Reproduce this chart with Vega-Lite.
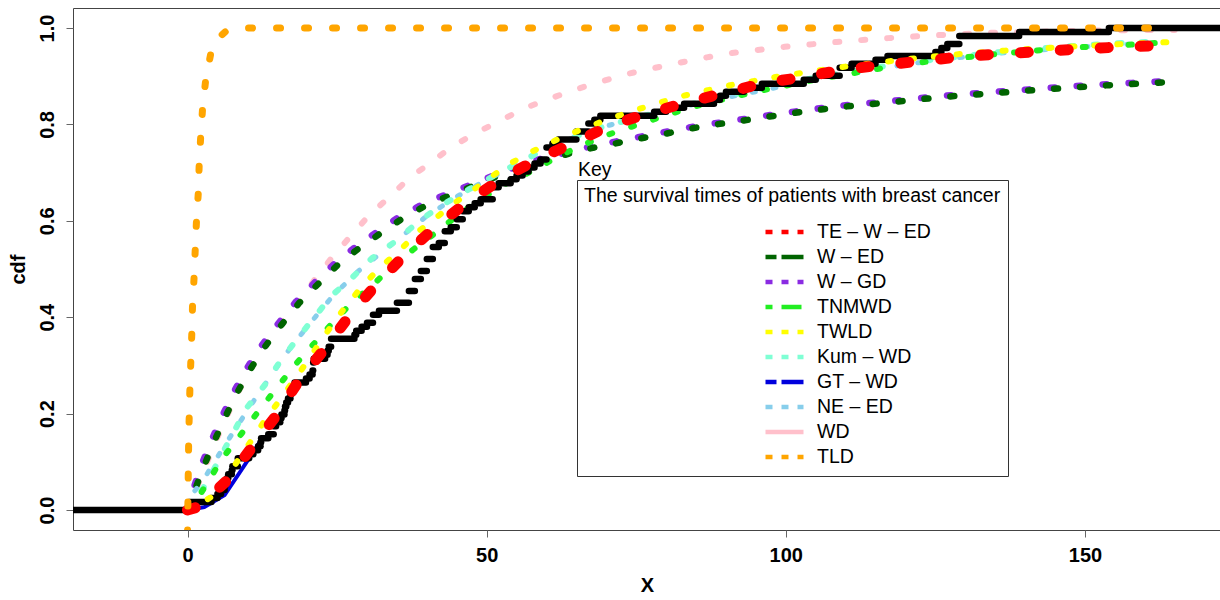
{
  "$schema": "https://vega.github.io/schema/vega-lite/v6.json",
  "autosize": {"type": "none"},
  "padding": {"left": 73, "top": 8, "right": 0, "bottom": 70},
  "width": 1148,
  "height": 522,
  "background": "white",
  "config": {
    "font": "Liberation Sans",
    "view": {"stroke": "#444", "strokeWidth": 1},
    "axis": {"grid": false, "domain": false, "tickColor": "#666", "tickSize": 7, "labelColor": "black", "labelFontSize": 20, "labelFontWeight": "bold", "titleFontSize": 20, "titleFontWeight": "bold", "titleColor": "black"}
  },
  "datasets": {
    "curves": [
      {"series": "WD", "x": 0, "y": 0}, {"series": "WD", "x": 2.5, "y": 0.075}, {"series": "WD", "x": 4.2, "y": 0.128}, {"series": "WD", "x": 6.2, "y": 0.185}, {"series": "WD", "x": 8.2, "y": 0.238}, {"series": "WD", "x": 10.4, "y": 0.29}, {"series": "WD", "x": 12.9, "y": 0.34}, {"series": "WD", "x": 15.7, "y": 0.39}, {"series": "WD", "x": 18.7, "y": 0.435}, {"series": "WD", "x": 21.2, "y": 0.477}, {"series": "WD", "x": 24.1, "y": 0.523}, {"series": "WD", "x": 27.1, "y": 0.566}, {"series": "WD", "x": 30.4, "y": 0.612}, {"series": "WD", "x": 33.8, "y": 0.65}, {"series": "WD", "x": 37.1, "y": 0.689}, {"series": "WD", "x": 40.8, "y": 0.722}, {"series": "WD", "x": 44.3, "y": 0.755}, {"series": "WD", "x": 48.5, "y": 0.784}, {"series": "WD", "x": 52.5, "y": 0.809}, {"series": "WD", "x": 56.4, "y": 0.834}, {"series": "WD", "x": 60.9, "y": 0.855}, {"series": "WD", "x": 65, "y": 0.873}, {"series": "WD", "x": 69.4, "y": 0.89}, {"series": "WD", "x": 73.6, "y": 0.905}, {"series": "WD", "x": 78, "y": 0.917}, {"series": "WD", "x": 82.3, "y": 0.928}, {"series": "WD", "x": 86.8, "y": 0.939}, {"series": "WD", "x": 91, "y": 0.948}, {"series": "WD", "x": 99.8, "y": 0.961}, {"series": "WD", "x": 108.5, "y": 0.971}, {"series": "WD", "x": 117, "y": 0.979}, {"series": "WD", "x": 125, "y": 0.985}, {"series": "WD", "x": 134, "y": 0.99}, {"series": "WD", "x": 145, "y": 0.993}, {"series": "WD", "x": 152, "y": 0.995}, {"series": "WD", "x": 165, "y": 0.996},

      {"series": "W – GD", "x": 0, "y": 0}, {"series": "W – GD", "x": 0.5, "y": 0.025}, {"series": "W – GD", "x": 2.0, "y": 0.083}, {"series": "W – GD", "x": 3.7, "y": 0.136}, {"series": "W – GD", "x": 5.6, "y": 0.19}, {"series": "W – GD", "x": 7.6, "y": 0.242}, {"series": "W – GD", "x": 9.8, "y": 0.292}, {"series": "W – GD", "x": 12.3, "y": 0.34}, {"series": "W – GD", "x": 15.1, "y": 0.386}, {"series": "W – GD", "x": 18.1, "y": 0.432}, {"series": "W – GD", "x": 21.4, "y": 0.474}, {"series": "W – GD", "x": 24.8, "y": 0.514}, {"series": "W – GD", "x": 28.4, "y": 0.549}, {"series": "W – GD", "x": 32, "y": 0.58}, {"series": "W – GD", "x": 35.7, "y": 0.611}, {"series": "W – GD", "x": 40, "y": 0.639}, {"series": "W – GD", "x": 44.5, "y": 0.661}, {"series": "W – GD", "x": 48.3, "y": 0.68}, {"series": "W – GD", "x": 57, "y": 0.722}, {"series": "W – GD", "x": 61.2, "y": 0.735}, {"series": "W – GD", "x": 65.5, "y": 0.749}, {"series": "W – GD", "x": 69.7, "y": 0.76}, {"series": "W – GD", "x": 74.2, "y": 0.771}, {"series": "W – GD", "x": 78.5, "y": 0.781}, {"series": "W – GD", "x": 83, "y": 0.792}, {"series": "W – GD", "x": 87.3, "y": 0.801}, {"series": "W – GD", "x": 91.3, "y": 0.808}, {"series": "W – GD", "x": 99.8, "y": 0.824}, {"series": "W – GD", "x": 108.5, "y": 0.838}, {"series": "W – GD", "x": 117.2, "y": 0.848}, {"series": "W – GD", "x": 125.8, "y": 0.859}, {"series": "W – GD", "x": 134.5, "y": 0.867}, {"series": "W – GD", "x": 143.1, "y": 0.875}, {"series": "W – GD", "x": 151.5, "y": 0.882}, {"series": "W – GD", "x": 165.5, "y": 0.891},

      {"series": "W – ED", "x": 0, "y": 0}, {"series": "W – ED", "x": 0.8, "y": 0.027}, {"series": "W – ED", "x": 2.5, "y": 0.083}, {"series": "W – ED", "x": 4.2, "y": 0.135}, {"series": "W – ED", "x": 6.2, "y": 0.19}, {"series": "W – ED", "x": 8.2, "y": 0.241}, {"series": "W – ED", "x": 10.4, "y": 0.29}, {"series": "W – ED", "x": 12.9, "y": 0.338}, {"series": "W – ED", "x": 15.7, "y": 0.384}, {"series": "W – ED", "x": 18.7, "y": 0.43}, {"series": "W – ED", "x": 22, "y": 0.471}, {"series": "W – ED", "x": 25.4, "y": 0.512}, {"series": "W – ED", "x": 29, "y": 0.546}, {"series": "W – ED", "x": 32.6, "y": 0.577}, {"series": "W – ED", "x": 36.3, "y": 0.608}, {"series": "W – ED", "x": 40.5, "y": 0.636}, {"series": "W – ED", "x": 45, "y": 0.658}, {"series": "W – ED", "x": 48.8, "y": 0.678}, {"series": "W – ED", "x": 57.5, "y": 0.72}, {"series": "W – ED", "x": 61.7, "y": 0.732}, {"series": "W – ED", "x": 66, "y": 0.747}, {"series": "W – ED", "x": 70.2, "y": 0.757}, {"series": "W – ED", "x": 74.7, "y": 0.769}, {"series": "W – ED", "x": 79, "y": 0.778}, {"series": "W – ED", "x": 83.4, "y": 0.79}, {"series": "W – ED", "x": 87.8, "y": 0.799}, {"series": "W – ED", "x": 91.8, "y": 0.806}, {"series": "W – ED", "x": 100.3, "y": 0.822}, {"series": "W – ED", "x": 109, "y": 0.836}, {"series": "W – ED", "x": 117.7, "y": 0.846}, {"series": "W – ED", "x": 126.3, "y": 0.857}, {"series": "W – ED", "x": 135, "y": 0.865}, {"series": "W – ED", "x": 143.6, "y": 0.873}, {"series": "W – ED", "x": 152, "y": 0.88}, {"series": "W – ED", "x": 166, "y": 0.889},

      {"series": "NE – ED", "x": 0, "y": 0}, {"series": "NE – ED", "x": 0.6, "y": 0.03}, {"series": "NE – ED", "x": 2.5, "y": 0.06}, {"series": "NE – ED", "x": 4.2, "y": 0.093}, {"series": "NE – ED", "x": 6, "y": 0.13}, {"series": "NE – ED", "x": 8.4, "y": 0.176}, {"series": "NE – ED", "x": 11, "y": 0.225}, {"series": "NE – ED", "x": 14, "y": 0.28}, {"series": "NE – ED", "x": 17, "y": 0.333}, {"series": "NE – ED", "x": 20, "y": 0.38}, {"series": "NE – ED", "x": 24, "y": 0.44}, {"series": "NE – ED", "x": 28, "y": 0.49}, {"series": "NE – ED", "x": 32, "y": 0.53}, {"series": "NE – ED", "x": 36, "y": 0.57}, {"series": "NE – ED", "x": 40, "y": 0.61}, {"series": "NE – ED", "x": 45, "y": 0.65}, {"series": "NE – ED", "x": 50, "y": 0.685}, {"series": "NE – ED", "x": 55, "y": 0.715}, {"series": "NE – ED", "x": 60, "y": 0.75}, {"series": "NE – ED", "x": 68, "y": 0.79}, {"series": "NE – ED", "x": 75, "y": 0.813}, {"series": "NE – ED", "x": 85, "y": 0.843}, {"series": "NE – ED", "x": 95, "y": 0.868}, {"series": "NE – ED", "x": 105, "y": 0.893}, {"series": "NE – ED", "x": 115, "y": 0.915}, {"series": "NE – ED", "x": 125, "y": 0.933}, {"series": "NE – ED", "x": 135, "y": 0.947}, {"series": "NE – ED", "x": 145, "y": 0.957}, {"series": "NE – ED", "x": 155, "y": 0.965}, {"series": "NE – ED", "x": 162, "y": 0.969},

      {"series": "Kum – WD", "x": 0, "y": 0}, {"series": "Kum – WD", "x": 1.5, "y": 0.025}, {"series": "Kum – WD", "x": 3.3, "y": 0.058}, {"series": "Kum – WD", "x": 5.7, "y": 0.115}, {"series": "Kum – WD", "x": 8, "y": 0.168}, {"series": "Kum – WD", "x": 9.9, "y": 0.212}, {"series": "Kum – WD", "x": 12.9, "y": 0.259}, {"series": "Kum – WD", "x": 15.4, "y": 0.307}, {"series": "Kum – WD", "x": 18.2, "y": 0.353}, {"series": "Kum – WD", "x": 21.2, "y": 0.4}, {"series": "Kum – WD", "x": 24.2, "y": 0.446}, {"series": "Kum – WD", "x": 27.6, "y": 0.483}, {"series": "Kum – WD", "x": 30.9, "y": 0.523}, {"series": "Kum – WD", "x": 34.6, "y": 0.556}, {"series": "Kum – WD", "x": 38.3, "y": 0.595}, {"series": "Kum – WD", "x": 41.8, "y": 0.627}, {"series": "Kum – WD", "x": 47, "y": 0.665}, {"series": "Kum – WD", "x": 53, "y": 0.705}, {"series": "Kum – WD", "x": 61, "y": 0.757}, {"series": "Kum – WD", "x": 68, "y": 0.79}, {"series": "Kum – WD", "x": 74.2, "y": 0.811}, {"series": "Kum – WD", "x": 80, "y": 0.83}, {"series": "Kum – WD", "x": 87, "y": 0.85}, {"series": "Kum – WD", "x": 95, "y": 0.872}, {"series": "Kum – WD", "x": 105, "y": 0.897}, {"series": "Kum – WD", "x": 115, "y": 0.918}, {"series": "Kum – WD", "x": 125, "y": 0.935}, {"series": "Kum – WD", "x": 135, "y": 0.949}, {"series": "Kum – WD", "x": 145, "y": 0.96}, {"series": "Kum – WD", "x": 155, "y": 0.968}, {"series": "Kum – WD", "x": 162, "y": 0.972},

      {"series": "TNMWD", "x": 0, "y": 0}, {"series": "TNMWD", "x": 2, "y": 0.03}, {"series": "TNMWD", "x": 3.5, "y": 0.06}, {"series": "TNMWD", "x": 5.7, "y": 0.105}, {"series": "TNMWD", "x": 9, "y": 0.158}, {"series": "TNMWD", "x": 12, "y": 0.207}, {"series": "TNMWD", "x": 14.9, "y": 0.253}, {"series": "TNMWD", "x": 17.9, "y": 0.3}, {"series": "TNMWD", "x": 21.2, "y": 0.346}, {"series": "TNMWD", "x": 24.2, "y": 0.388}, {"series": "TNMWD", "x": 27.6, "y": 0.432}, {"series": "TNMWD", "x": 30.9, "y": 0.466}, {"series": "TNMWD", "x": 34.1, "y": 0.504}, {"series": "TNMWD", "x": 38.3, "y": 0.546}, {"series": "TNMWD", "x": 42.1, "y": 0.581}, {"series": "TNMWD", "x": 45.2, "y": 0.612}, {"series": "TNMWD", "x": 49.3, "y": 0.647}, {"series": "TNMWD", "x": 52.7, "y": 0.674}, {"series": "TNMWD", "x": 57.2, "y": 0.701}, {"series": "TNMWD", "x": 63, "y": 0.74}, {"series": "TNMWD", "x": 69.2, "y": 0.774}, {"series": "TNMWD", "x": 73.4, "y": 0.792}, {"series": "TNMWD", "x": 77.6, "y": 0.809}, {"series": "TNMWD", "x": 81.8, "y": 0.826}, {"series": "TNMWD", "x": 86.1, "y": 0.842}, {"series": "TNMWD", "x": 95, "y": 0.868}, {"series": "TNMWD", "x": 105, "y": 0.893}, {"series": "TNMWD", "x": 120, "y": 0.925}, {"series": "TNMWD", "x": 133.6, "y": 0.944}, {"series": "TNMWD", "x": 146, "y": 0.958}, {"series": "TNMWD", "x": 160, "y": 0.967}, {"series": "TNMWD", "x": 164, "y": 0.971},

      {"series": "TWLD", "x": 0, "y": 0}, {"series": "TWLD", "x": 2, "y": 0.012}, {"series": "TWLD", "x": 5, "y": 0.035}, {"series": "TWLD", "x": 7.9, "y": 0.093}, {"series": "TWLD", "x": 12.5, "y": 0.178}, {"series": "TWLD", "x": 15.4, "y": 0.228}, {"series": "TWLD", "x": 19, "y": 0.29}, {"series": "TWLD", "x": 23.2, "y": 0.367}, {"series": "TWLD", "x": 26, "y": 0.415}, {"series": "TWLD", "x": 29.1, "y": 0.463}, {"series": "TWLD", "x": 32.1, "y": 0.502}, {"series": "TWLD", "x": 35.5, "y": 0.539}, {"series": "TWLD", "x": 38.8, "y": 0.58}, {"series": "TWLD", "x": 45, "y": 0.64}, {"series": "TWLD", "x": 49, "y": 0.675}, {"series": "TWLD", "x": 53.5, "y": 0.716}, {"series": "TWLD", "x": 57.5, "y": 0.743}, {"series": "TWLD", "x": 61.7, "y": 0.768}, {"series": "TWLD", "x": 65.9, "y": 0.79}, {"series": "TWLD", "x": 70, "y": 0.809}, {"series": "TWLD", "x": 74.4, "y": 0.828}, {"series": "TWLD", "x": 78.6, "y": 0.844}, {"series": "TWLD", "x": 82.8, "y": 0.859}, {"series": "TWLD", "x": 87, "y": 0.871}, {"series": "TWLD", "x": 91, "y": 0.882}, {"series": "TWLD", "x": 100, "y": 0.902}, {"series": "TWLD", "x": 110, "y": 0.92}, {"series": "TWLD", "x": 120, "y": 0.935}, {"series": "TWLD", "x": 130, "y": 0.947}, {"series": "TWLD", "x": 140, "y": 0.956}, {"series": "TWLD", "x": 150, "y": 0.963}, {"series": "TWLD", "x": 160, "y": 0.969}, {"series": "TWLD", "x": 165, "y": 0.971},

      {"series": "GT – WD", "x": 0, "y": 0}, {"series": "GT – WD", "x": 2.8, "y": 0.006}, {"series": "GT – WD", "x": 6.2, "y": 0.031}, {"series": "GT – WD", "x": 9, "y": 0.083}, {"series": "GT – WD", "x": 11.2, "y": 0.124}, {"series": "GT – WD", "x": 12.5, "y": 0.15},

      {"series": "TE – W – ED", "x": 0, "y": 0}, {"series": "TE – W – ED", "x": 1.2, "y": 0.004}, {"series": "TE – W – ED", "x": 3, "y": 0.02}, {"series": "TE – W – ED", "x": 6.5, "y": 0.06}, {"series": "TE – W – ED", "x": 10.7, "y": 0.129}, {"series": "TE – W – ED", "x": 14.9, "y": 0.197}, {"series": "TE – W – ED", "x": 18.7, "y": 0.27}, {"series": "TE – W – ED", "x": 23.2, "y": 0.338}, {"series": "TE – W – ED", "x": 27.4, "y": 0.409}, {"series": "TE – W – ED", "x": 31.8, "y": 0.471}, {"series": "TE – W – ED", "x": 36.6, "y": 0.533}, {"series": "TE – W – ED", "x": 41.8, "y": 0.591}, {"series": "TE – W – ED", "x": 47.2, "y": 0.643}, {"series": "TE – W – ED", "x": 53, "y": 0.691}, {"series": "TE – W – ED", "x": 58.9, "y": 0.73}, {"series": "TE – W – ED", "x": 64.7, "y": 0.763}, {"series": "TE – W – ED", "x": 70.9, "y": 0.799}, {"series": "TE – W – ED", "x": 77.3, "y": 0.824}, {"series": "TE – W – ED", "x": 83.6, "y": 0.846}, {"series": "TE – W – ED", "x": 90, "y": 0.866}, {"series": "TE – W – ED", "x": 96.5, "y": 0.886}, {"series": "TE – W – ED", "x": 102.8, "y": 0.898}, {"series": "TE – W – ED", "x": 109.4, "y": 0.913}, {"series": "TE – W – ED", "x": 116, "y": 0.923}, {"series": "TE – W – ED", "x": 122.4, "y": 0.931}, {"series": "TE – W – ED", "x": 129, "y": 0.94}, {"series": "TE – W – ED", "x": 135.4, "y": 0.946}, {"series": "TE – W – ED", "x": 142, "y": 0.951}, {"series": "TE – W – ED", "x": 148.6, "y": 0.956}, {"series": "TE – W – ED", "x": 155, "y": 0.96}, {"series": "TE – W – ED", "x": 163, "y": 0.964},

      {"series": "TLD", "x": 0, "y": -0.05}, {"series": "TLD", "x": 0.1, "y": 0.05}, {"series": "TLD", "x": 0.2, "y": 0.15}, {"series": "TLD", "x": 0.4, "y": 0.253}, {"series": "TLD", "x": 0.56, "y": 0.311}, {"series": "TLD", "x": 0.72, "y": 0.367}, {"series": "TLD", "x": 0.84, "y": 0.425}, {"series": "TLD", "x": 1.1, "y": 0.483}, {"series": "TLD", "x": 1.3, "y": 0.543}, {"series": "TLD", "x": 1.5, "y": 0.6}, {"series": "TLD", "x": 1.8, "y": 0.657}, {"series": "TLD", "x": 1.95, "y": 0.716}, {"series": "TLD", "x": 2.2, "y": 0.774}, {"series": "TLD", "x": 2.5, "y": 0.83}, {"series": "TLD", "x": 3.0, "y": 0.888}, {"series": "TLD", "x": 3.9, "y": 0.948}, {"series": "TLD", "x": 5.2, "y": 0.98}, {"series": "TLD", "x": 6.5, "y": 0.994}, {"series": "TLD", "x": 9, "y": 1.0}, {"series": "TLD", "x": 163, "y": 1.0}
    ],
    "ecdf": [
      {"x": -25, "x2": 0.3, "y": 0}, {"x": 0.3, "x2": 4.0, "y": 0.0165}, {"x": 4.0, "x2": 5.0, "y": 0.0248}, {"x": 5.0, "x2": 5.6, "y": 0.0331}, {"x": 5.6, "x2": 6.2, "y": 0.0413}, {"x": 6.2, "x2": 6.3, "y": 0.0496}, {"x": 6.3, "x2": 6.6, "y": 0.0579}, {"x": 6.6, "x2": 6.8, "y": 0.0661}, {"x": 6.8, "x2": 7.4, "y": 0.0744}, {"x": 7.4, "x2": 7.5, "y": 0.0826}, {"x": 7.5, "x2": 8.4, "y": 0.0909}, {"x": 8.4, "x2": 10.3, "y": 0.1074}, {"x": 10.3, "x2": 11.0, "y": 0.1157}, {"x": 11.0, "x2": 11.8, "y": 0.124}, {"x": 11.8, "x2": 12.2, "y": 0.1322}, {"x": 12.2, "x2": 12.3, "y": 0.1405}, {"x": 12.3, "x2": 13.5, "y": 0.1488}, {"x": 13.5, "x2": 14.4, "y": 0.157}, {"x": 14.4, "x2": 14.8, "y": 0.1736}, {"x": 14.8, "x2": 15.5, "y": 0.1818}, {"x": 15.5, "x2": 15.7, "y": 0.1901}, {"x": 15.7, "x2": 16.2, "y": 0.1983}, {"x": 16.2, "x2": 16.3, "y": 0.2066}, {"x": 16.3, "x2": 16.5, "y": 0.2149}, {"x": 16.5, "x2": 16.8, "y": 0.2231}, {"x": 16.8, "x2": 17.2, "y": 0.2314}, {"x": 17.2, "x2": 17.3, "y": 0.2397}, {"x": 17.3, "x2": 17.5, "y": 0.2479}, {"x": 17.5, "x2": 17.9, "y": 0.2562}, {"x": 17.9, "x2": 19.8, "y": 0.2645}, {"x": 19.8, "x2": 20.4, "y": 0.2727}, {"x": 20.4, "x2": 20.9, "y": 0.281}, {"x": 20.9, "x2": 21.0, "y": 0.2893}, {"x": 21.0, "x2": 21.1, "y": 0.3058}, {"x": 21.1, "x2": 23.0, "y": 0.314}, {"x": 23.0, "x2": 23.4, "y": 0.3223}, {"x": 23.4, "x2": 23.6, "y": 0.3306}, {"x": 23.6, "x2": 24.0, "y": 0.3388}, {"x": 24.0, "x2": 27.9, "y": 0.3554}, {"x": 27.9, "x2": 28.2, "y": 0.3636}, {"x": 28.2, "x2": 29.1, "y": 0.3719}, {"x": 29.1, "x2": 30.0, "y": 0.3802}, {"x": 30.0, "x2": 31.0, "y": 0.3884}, {"x": 31.0, "x2": 32.0, "y": 0.405}, {"x": 32.0, "x2": 35.0, "y": 0.4132}, {"x": 35.0, "x2": 37.0, "y": 0.4298}, {"x": 37.0, "x2": 38.0, "y": 0.4545}, {"x": 38.0, "x2": 39.0, "y": 0.4793}, {"x": 39.0, "x2": 40.0, "y": 0.4959}, {"x": 40.0, "x2": 41.0, "y": 0.5207}, {"x": 41.0, "x2": 42.0, "y": 0.5455}, {"x": 42.0, "x2": 43.0, "y": 0.5537}, {"x": 43.0, "x2": 44.0, "y": 0.5785}, {"x": 44.0, "x2": 45.0, "y": 0.5868}, {"x": 45.0, "x2": 46.0, "y": 0.6033}, {"x": 46.0, "x2": 47.0, "y": 0.6198}, {"x": 47.0, "x2": 48.0, "y": 0.6281}, {"x": 48.0, "x2": 49.0, "y": 0.6364}, {"x": 49.0, "x2": 51.0, "y": 0.6446}, {"x": 51.0, "x2": 52.0, "y": 0.6694}, {"x": 52.0, "x2": 54.0, "y": 0.6777}, {"x": 54.0, "x2": 55.0, "y": 0.686}, {"x": 55.0, "x2": 56.0, "y": 0.6942}, {"x": 56.0, "x2": 57.0, "y": 0.7025}, {"x": 57.0, "x2": 58.0, "y": 0.7107}, {"x": 58.0, "x2": 59.0, "y": 0.719}, {"x": 59.0, "x2": 60.0, "y": 0.7273}, {"x": 60.0, "x2": 61.0, "y": 0.7521}, {"x": 61.0, "x2": 62.0, "y": 0.7603}, {"x": 62.0, "x2": 65.0, "y": 0.7686}, {"x": 65.0, "x2": 67.0, "y": 0.7851}, {"x": 67.0, "x2": 68.0, "y": 0.8017}, {"x": 68.0, "x2": 69.0, "y": 0.8099}, {"x": 69.0, "x2": 78.0, "y": 0.8182}, {"x": 78.0, "x2": 80.0, "y": 0.8264}, {"x": 80.0, "x2": 83.0, "y": 0.8347}, {"x": 83.0, "x2": 88.0, "y": 0.843}, {"x": 88.0, "x2": 89.0, "y": 0.8512}, {"x": 89.0, "x2": 90.0, "y": 0.8595}, {"x": 90.0, "x2": 93.0, "y": 0.8678}, {"x": 93.0, "x2": 96.0, "y": 0.876}, {"x": 96.0, "x2": 103.0, "y": 0.8843}, {"x": 103.0, "x2": 105.0, "y": 0.8926}, {"x": 105.0, "x2": 109.0, "y": 0.9008}, {"x": 109.0, "x2": 111.0, "y": 0.9174}, {"x": 111.0, "x2": 115.0, "y": 0.9256}, {"x": 115.0, "x2": 117.0, "y": 0.9339}, {"x": 117.0, "x2": 125.0, "y": 0.9421}, {"x": 125.0, "x2": 126.0, "y": 0.9504}, {"x": 126.0, "x2": 127.0, "y": 0.9587}, {"x": 127.0, "x2": 129.0, "y": 0.9669}, {"x": 129.0, "x2": 139.0, "y": 0.9835}, {"x": 139.0, "x2": 154.0, "y": 0.9917}, {"x": 154.0, "x2": 190, "y": 1.0}
    ],
    "refs": [{"y": 0}, {"y": 1}],
    "key": [{"x": 65.27, "y": 0.705, "label": "Key"}]
  },
  "encoding": {
    "x": {"field": "x", "type": "quantitative", "scale": {"domain": [-19.14, 172.74], "nice": false, "zero": false},
      "axis": {"values": [0, 50, 100, 150], "title": "X", "labelPadding": 8, "titlePadding": 10}},
    "y": {"field": "y", "type": "quantitative", "scale": {"domain": [-0.0415, 1.0415], "nice": false, "zero": false},
      "axis": {"values": [0, 0.2, 0.4, 0.6, 0.8, 1.0], "format": ".1f", "title": "cdf", "labelAngle": 270, "labelAlign": "center", "labelBaseline": "alphabetic", "labelPadding": 13, "titlePadding": 9}}
  },
  "layer": [
    {"data": {"name": "curves"}, "transform": [{"filter": "datum.series === 'GT – WD'"}], "mark": {"type": "line", "clip": true, "strokeWidth": 4},
      "encoding": {"color": {"field": "series", "type": "nominal",
        "scale": {"domain": ["TE – W – ED", "W – ED", "W – GD", "TNMWD", "TWLD", "Kum – WD", "GT – WD", "NE – ED", "WD", "TLD"],
                  "range": ["#FF0000", "#006400", "#8A2BE2", "#22EE22", "#FFFF00", "#7FFFD4", "#0000DD", "#87CEEB", "#FFC0CB", "#FFA500"]},
        "legend": {"orient": "none", "legendX": 504, "legendY": 172, "title": "The survival times of patients with breast cancer",
          "titleFontSize": 19.5, "titleFontWeight": "normal", "titleColor": "black", "titleLimit": 0, "titlePadding": 14,
          "labelFontSize": 19.5, "labelColor": "black", "labelLimit": 0, "labelOffset": 11,
          "symbolType": "stroke", "symbolSize": 1444, "symbolStrokeWidth": 4.5, "symbolOffset": 179,
          "clipHeight": 23, "rowPadding": 2, "padding": 7, "strokeColor": "#333", "fillColor": "white",
          "encode": {"symbols": {"update": {"strokeDash": {"signal": "[[7,9],[11,5,22,5],[7,9],[7,9,20,9],[7,9],[7,9],[11,5,22,5],[7,9],[40,0],[7,9]][datum.index]"}}}}}}}},
    {"data": {"name": "curves"}, "transform": [{"filter": "datum.series === 'WD'"}], "mark": {"type": "line", "clip": true, "strokeWidth": 6, "strokeDash": [4, 22], "strokeCap": "round"}, "encoding": {"color": {"field": "series", "type": "nominal"}}},
    {"data": {"name": "curves"}, "transform": [{"filter": "datum.series === 'W – GD'"}], "mark": {"type": "line", "clip": true, "strokeWidth": 6.5, "strokeDash": [4, 22], "strokeCap": "round"}, "encoding": {"color": {"field": "series", "type": "nominal"}}},
    {"data": {"name": "curves"}, "transform": [{"filter": "datum.series === 'W – ED'"}], "mark": {"type": "line", "clip": true, "strokeWidth": 6.5, "strokeDash": [4, 22], "strokeCap": "round"}, "encoding": {"color": {"field": "series", "type": "nominal"}}},
    {"data": {"name": "curves"}, "transform": [{"filter": "datum.series === 'NE – ED'"}], "mark": {"type": "line", "clip": true, "strokeWidth": 5, "strokeDash": [3, 18], "strokeCap": "round"}, "encoding": {"color": {"field": "series", "type": "nominal"}}},
    {"data": {"name": "curves"}, "transform": [{"filter": "datum.series === 'Kum – WD'"}], "mark": {"type": "line", "clip": true, "strokeWidth": 6, "strokeDash": [4, 20], "strokeCap": "round"}, "encoding": {"color": {"field": "series", "type": "nominal"}}},
    {"data": {"name": "curves"}, "transform": [{"filter": "datum.series === 'TNMWD'"}], "mark": {"type": "line", "clip": true, "strokeWidth": 6, "strokeDash": [3, 20], "strokeCap": "round"}, "encoding": {"color": {"field": "series", "type": "nominal"}}},
    {"data": {"name": "ecdf"}, "mark": {"type": "rule", "clip": true, "strokeWidth": 6.5, "strokeCap": "round", "color": "black"}, "encoding": {"x2": {"field": "x2"}}},
    {"data": {"name": "refs"}, "mark": {"type": "rule", "color": "#B3B3B3", "strokeWidth": 1, "strokeDash": [4, 4]}, "encoding": {"y": {"field": "y", "type": "quantitative"}}},
    {"data": {"name": "curves"}, "transform": [{"filter": "datum.series === 'TWLD'"}], "mark": {"type": "line", "clip": true, "strokeWidth": 6, "strokeDash": [3, 20], "strokeCap": "round"}, "encoding": {"color": {"field": "series", "type": "nominal"}}},
    {"data": {"name": "curves"}, "transform": [{"filter": "datum.series === 'TE – W – ED'"}], "mark": {"type": "line", "clip": true, "strokeWidth": 11, "strokeDash": [8, 32], "strokeCap": "round"}, "encoding": {"color": {"field": "series", "type": "nominal"}}},
    {"data": {"name": "curves"}, "transform": [{"filter": "datum.series === 'TLD'"}], "mark": {"type": "line", "clip": true, "strokeWidth": 7, "strokeDash": [4, 24], "strokeCap": "round"}, "encoding": {"color": {"field": "series", "type": "nominal"}}},
    {"data": {"name": "key"}, "mark": {"type": "text", "align": "left", "baseline": "middle", "fontSize": 19.5, "color": "black"}, "encoding": {"text": {"field": "label"}}}
  ]
}
